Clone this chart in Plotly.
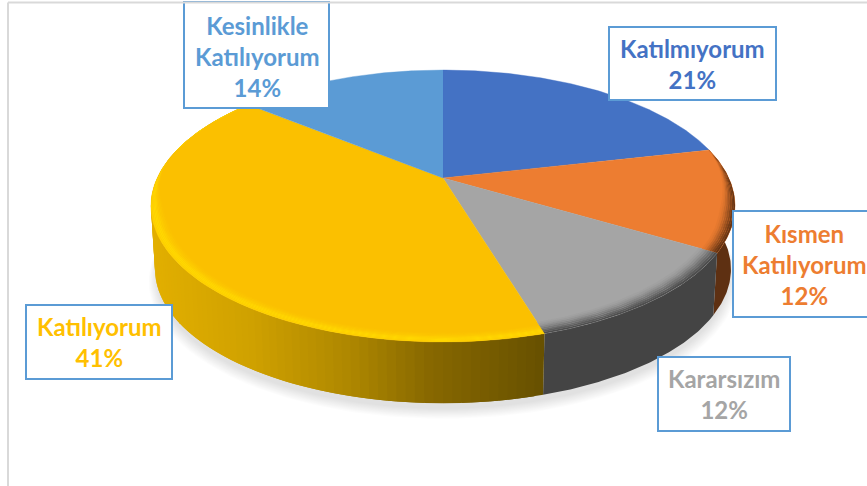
import numpy as np
import plotly.graph_objects as go

# ---- data ----
label_lines = ["Katılmıyorum", "Kısmen<br>Katılıyorum", "Kararsızım", "Katılıyorum", "Kesinlikle<br>Katılıyorum"]
values = [21.4, 12.2, 11.8, 40.6, 14]
face_colors = ["#4472C4", "#ED7D31", "#A5A5A5", "#FBC000", "#5B9BD5"]
text_colors = ["#4472C4", "#ED7D31", "#A5A5A5", "#FFC000", "#5B9BD5"]

# ---- projection of the tilted disc ----
CX, CY = 443, 178
A, B, K = 130.2, 285.8, 0.206
BOT_Y0, BOT_S = 241.5, 0.986


def top(t, s=1.0):
    X, Y = s * np.sin(t), -s * np.cos(t)
    d = 1 - K * Y
    return CX + B * X / d, CY + A * Y / d


def bottom(t, grow=0.0, dy=0.0):
    X, Y = np.sin(t), -np.cos(t)
    d = 1 - K * Y
    f = BOT_S + grow
    return CX + B * f * X / d, BOT_Y0 + dy + A * f * Y / d


def mix(c1, c2, f):
    a = [int(c1[i:i + 2], 16) for i in (1, 3, 5)]
    b = [int(c2[i:i + 2], 16) for i in (1, 3, 5)]
    return "#%02x%02x%02x" % tuple(round(p + (q - p) * f) for p, q in zip(a, b))


def poly(x, y, color, lw=0.0):
    return go.Scatter(
        x=list(x), y=list(y), mode="lines", fill="toself", fillcolor=color,
        line=dict(color=color, width=lw),
        hoverinfo="skip", showlegend=False,
    )


traces = []
edges = 2 * np.pi * np.concatenate([[0], np.cumsum(values)]) / sum(values)

# soft shadow under the disc
tt = np.linspace(0, 2 * np.pi, 240)
for i in range(10):
    x, y = bottom(tt, grow=0.022 - 0.003 * i, dy=12 - 0.6 * i)
    traces.append(go.Scatter(x=x, y=y, mode="lines", fill="toself",
                             fillcolor="rgba(0,0,0,0.012)", line=dict(width=0),
                             hoverinfo="skip", showlegend=False))


def side_strips(t0, t1, color_fn, step=np.radians(1.5)):
    """Side wall as overlapping strips painted one over the next, so no seams show."""
    n = max(2, int((t1 - t0) / step))
    ts = np.linspace(t0, t1, n + 1)
    for k in range(n):
        m = np.linspace(ts[k], t1 if k == n - 1 else ts[min(k + 2, n)], 6)
        xt, yt = top(m)
        xb, yb = bottom(m)
        xm = top((ts[k] + ts[k + 1]) / 2)[0]
        traces.append(poly(np.r_[xt, xb[::-1]], np.r_[yt, yb[::-1]], color_fn(xm)))


def yellow_side(x):
    stops_x = [150, 250, 350, 430, 545]
    stops_c = ["#E2AF00", "#CFA100", "#AE8700", "#876800", "#675000"]
    rgb = [np.interp(x, stops_x, [int(c[i:i + 2], 16) for c in stops_c]) for i in (1, 3, 5)]
    return "#%02x%02x%02x" % tuple(int(round(v)) for v in rgb)


# orange and grey walls are flat colours: one polygon each
for idx, col in ((1, "#5E3012"), (2, "#444444")):
    m = np.linspace(edges[idx], edges[idx + 1], 80)
    xt, yt = top(m)
    xb, yb = bottom(m)
    traces.append(poly(np.r_[xt, xb[::-1]], np.r_[yt, yb[::-1]], col))
side_strips(edges[3], edges[4], yellow_side)

# top faces
for i in range(5):
    t = np.linspace(edges[i], edges[i + 1], 120)
    x, y = top(t)
    traces.append(poly(np.r_[CX, x], np.r_[CY, y], face_colors[i], lw=0.4))


def rim(t0, t1, stops, fade0, fade1, width=0.045):
    """Bevelled rim: concentric bands, narrowing to nothing at the back."""
    t = np.linspace(t0, t1, 100)
    w = np.clip((t - np.radians(fade0[0])) / np.radians(fade0[1] - fade0[0]), 0, 1) * \
        np.clip((np.radians(fade1[1]) - t) / np.radians(fade1[1] - fade1[0]), 0, 1)
    w = w * w * (3 - 2 * w)
    n = len(stops)
    for j in range(n):
        s_in = 1 - width * w * (1 - j / n)
        s_out = 1 - width * w * (1 - (j + 1) / n)
        xi, yi = top(t, s_in)
        xo, yo = top(t, s_out)
        traces.append(poly(np.r_[xo, xi[::-1]], np.r_[yo, yi[::-1]], stops[j]))


yel = "#FBC000"
rim(edges[3] - 0.002, edges[4], [mix(yel, "#FFD800", f) for f in (0.08, 0.2, 0.35, 0.5, 0.7, 0.9, 1.0, 0.9, 0.75)],
    (150, 151), (250, 280))
g = "#A5A5A5"
rim(edges[2], edges[3], [mix(g, "#444444", f) for f in (0.04, 0.1, 0.2, 0.32, 0.46, 0.6, 0.75, 0.9)],
    (100, 104), (200, 201), width=0.06)
o = "#ED7D31"
rim(edges[1], edges[2], [mix(o, "#5E3012", f) for f in (0.05, 0.12, 0.25, 0.4, 0.55, 0.7, 0.85, 0.95)],
    (72, 108), (200, 201), width=0.05)

fig = go.Figure(traces)

# label boxes: x0, x1, y0, y1, text centre x, text centre y
boxes = [
    (609, 776, 27, 100, 692.5, 64),
    (733, 880, 211, 317, 804.5, 264),
    (658, 790, 357, 431, 724, 394),
    (26, 172, 305, 379, 99, 342),
    (184, 329, 2, 108, 257, 56),
]
shapes = []
annots = []
for (x0, x1, y0, y1, tx, ty), text, col, v in zip(boxes, label_lines, text_colors, values):
    shapes.append(dict(type="rect", xref="x", yref="y", x0=x0, x1=x1, y0=y0, y1=y1,
                       fillcolor="white", line=dict(color="#5B9BD5", width=2), layer="above"))
    annots.append(dict(x=tx, y=ty, xref="x", yref="y", showarrow=False, align="center",
                       text=f"{text}<br>{round(v)}%", xanchor="center", yanchor="middle",
                       font=dict(family="Lato", size=24, color=col, weight="bold")))

# chart-area frame
shapes.append(dict(type="line", xref="x", yref="y", x0=8, x1=867, y0=2.5, y1=2.5,
                   line=dict(color="#D9D9D9", width=2), layer="above"))
shapes.append(dict(type="line", xref="x", yref="y", x0=8, x1=8, y0=2.5, y1=486,
                   line=dict(color="#D9D9D9", width=2), layer="above"))

fig.update_layout(
    width=867, height=486, autosize=False,
    margin=dict(l=0, r=0, t=0, b=0),
    paper_bgcolor="white", plot_bgcolor="white", showlegend=False,
    xaxis=dict(range=[0, 867], visible=False, fixedrange=True),
    yaxis=dict(range=[486, 0], visible=False, fixedrange=True),
    shapes=shapes, annotations=annots,
)
fig.write_html("out.html", config={"displayModeBar": False},
               post_script="document.body.style.margin='0';document.body.style.overflow='hidden';")
